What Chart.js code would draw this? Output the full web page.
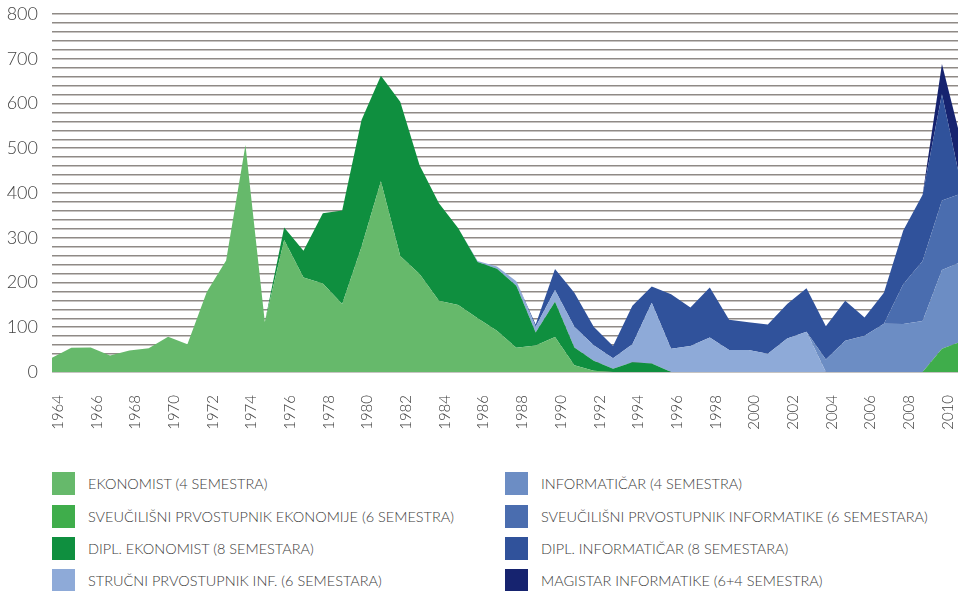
<!DOCTYPE html>
<html>
<head>
<meta charset="utf-8">
<script src="https://cdn.jsdelivr.net/npm/chart.js@4.4.1/dist/chart.umd.min.js"></script>
<style>
  html, body { margin: 0; padding: 0; background: #ffffff; overflow: hidden; }
  body { width: 958px; height: 591px; position: relative; font-family: Lato, "Open Sans", "DejaVu Sans", sans-serif; }
  #wrap { position: absolute; left: 0; top: 0; width: 958px; height: 440px; }
  .leg { position: absolute; height: 23px; display: flex; align-items: center; font-family: Lato, "Open Sans", sans-serif; font-weight: 300; font-size: 14.5px; color: #3c3c3c; white-space: nowrap; }
  .leg .sw { width: 23px; height: 23px; margin-right: 13px; flex: none; }
</style>
</head>
<body>
<div id="wrap"><canvas id="c"></canvas></div>
<div id="legend"></div>
<script>
// ---- data ----
const years = [1964,1965,1966,1967,1968,1969,1970,1971,1972,1973,1974,1975,1976,1977,1978,1979,1980,1981,1982,1983,1984,1985,1986,1987,1988,1989,1990,1991,1992,1993,1994,1995,1996,1997,1998,1999,2000,2001,2002,2003,2004,2005,2006,2007,2008,2009,2010,2011];
const tickYears = [1964,1966,1968,1970,1972,1974,1976,1978,1980,1982,1984,1986,1988,1990,1992,1994,1996,1998,2000,2002,2004,2006,2008,2010];
const tickLabels = ['1964','1966','1968','1970','1972','1974','1976','1978','1980','1982','1984','1986','1988','1990','1992','1994','1996','1998','2000','2002','2004','2006','2008','2010'];
const yTickLabels = ['0','100','200','300','400','500','600','700','800'];

const seriesNames = [
  'EKONOMIST (4 SEMESTRA)',
  'SVEUČILIŠNI PRVOSTUPNIK EKONOMIJE (6 SEMESTRA)',
  'DIPL. EKONOMIST (8 SEMESTARA)',
  'STRUČNI PRVOSTUPNIK INF. (6 SEMESTARA)',
  'INFORMATIČAR (4 SEMESTRA)',
  'SVEUČILIŠNI PRVOSTUPNIK INFORMATIKE (6 SEMESTARA)',
  'DIPL. INFORMATIČAR (8 SEMESTARA)',
  'MAGISTAR INFORMATIKE (6+4 SEMESTRA)'
];
const seriesColors = ['#66b96b','#3fad4b','#0f8f3f','#8eaad8','#6c8dc4','#4a6daf','#30529b','#16236f'];

const ekonomist = [32,54,55,37,48,53,79,62,179,249,507,112,295,211,198,152,280,426,259,219,159,150,120,92,54,59,78,15,3,0,0,0,0,0,0,0,0,0,0,0,0,0,0,0,0,0,0,0];
const svEkonomije = [0,0,0,0,0,0,0,0,0,0,0,0,0,0,0,0,0,0,0,0,0,0,0,0,0,0,0,0,0,0,0,0,0,0,0,0,0,0,0,0,0,0,0,0,0,0,52,68];
const diplEkonomist = [0,0,0,0,0,0,0,0,0,0,0,0,28,60,157,209,283,236,345,243,218,171,126,139,139,29,79,40,22,7,22,19,0,0,0,0,0,0,0,0,0,0,0,0,0,0,0,0];
const strucniInf = [0,0,0,0,0,0,0,0,0,0,0,0,0,0,0,0,0,0,0,0,0,0,2,5,10,13,26,46,35,24,40,136,52,58,77,49,49,41,75,90,0,0,0,0,0,0,0,0];
const informaticar = [0,0,0,0,0,0,0,0,0,0,0,0,0,0,0,0,0,0,0,0,0,0,0,0,0,0,0,0,0,0,0,0,0,0,0,0,0,0,0,0,28,70,81,108,107,114,176,178];
const svInformatike = [0,0,0,0,0,0,0,0,0,0,0,0,0,0,0,0,0,0,0,0,0,0,0,0,0,0,0,0,0,0,0,0,0,0,0,0,0,0,0,0,0,0,0,0,89,134,155,153];
const diplInformaticar = [0,0,0,0,0,0,0,0,0,0,0,0,0,0,0,0,0,0,0,0,0,0,0,0,0,5,47,76,41,27,86,36,122,86,112,68,62,65,77,97,74,89,41,69,120,148,238,18];
const magistar = [0,0,0,0,0,0,0,0,0,0,0,0,0,0,0,0,0,0,0,0,0,0,0,0,0,0,0,0,0,0,0,0,0,0,0,0,0,0,0,0,0,0,0,0,0,0,67,99];

const seriesValues = [ekonomist, svEkonomije, diplEkonomist, strucniInf, informaticar, svInformatike, diplInformaticar, magistar];

// ---- chart ----
const datasets = seriesValues.map((vals, i) => ({
  label: seriesNames[i],
  data: years.map((yr, k) => ({ x: yr, y: vals[k] })),
  backgroundColor: seriesColors[i],
  borderColor: seriesColors[i],
  borderWidth: 0,
  pointRadius: 0,
  pointHoverRadius: 0,
  tension: 0,
  fill: i === 0 ? 'origin' : '-1',
  clip: 0
}));

const fontFamily = 'Lato, "Open Sans", "DejaVu Sans", sans-serif';

new Chart(document.getElementById('c'), {
  type: 'line',
  data: { datasets },
  options: {
    responsive: true,
    maintainAspectRatio: false,
    animation: false,
    events: [],
    layout: { padding: { left: 0, right: 0, top: 14, bottom: 0 } },
    plugins: { legend: { display: false }, tooltip: { enabled: false } },
    scales: {
      x: {
        type: 'linear',
        min: 1964,
        max: 2010.83,
        grid: { display: false, drawTicks: false },
        border: { display: false },
        afterBuildTicks: (axis) => { axis.ticks = tickYears.map(v => ({ value: v })); },
        afterFit: (axis) => { axis.height = 68; axis.paddingLeft = 0; axis.paddingRight = 0; },
        ticks: {
          autoSkip: false,
          minRotation: 90,
          maxRotation: 90,
          padding: 23,
          labelOffset: 6,
          color: '#3c3c3c',
          font: { family: fontFamily, size: 15, weight: 300 },
          callback: (v) => { const i = tickYears.indexOf(v); return i >= 0 ? tickLabels[i] : ''; }
        }
      },
      y: {
        stacked: true,
        min: 0,
        max: 800,
        grid: { color: '#8f8a86', lineWidth: 1.6, drawTicks: false },
        border: { display: false },
        afterFit: (axis) => { axis.width = 52; axis.paddingTop = 0; axis.paddingBottom = 0; },
        ticks: {
          stepSize: 20,
          autoSkip: false,
          padding: 14,
          color: '#444444',
          font: { family: fontFamily, size: 18, weight: 300 },
          callback: (v) => (v % 100 === 0 ? yTickLabels[v / 100] : '')
        }
      }
    }
  }
});

// ---- legend (HTML, two columns) ----
const legend = document.getElementById('legend');
const colX = [52, 505];
const rowY = [472, 505, 537, 569];
seriesNames.forEach((name, i) => {
  const col = Math.floor(i / 4), row = i % 4;
  const el = document.createElement('div');
  el.className = 'leg';
  el.style.left = colX[col] + 'px';
  el.style.top = rowY[row] + 'px';
  const sw = document.createElement('span');
  sw.className = 'sw';
  sw.style.background = seriesColors[i];
  const tx = document.createElement('span');
  tx.textContent = name;
  el.appendChild(sw); el.appendChild(tx);
  legend.appendChild(el);
});
</script>
</body>
</html>
